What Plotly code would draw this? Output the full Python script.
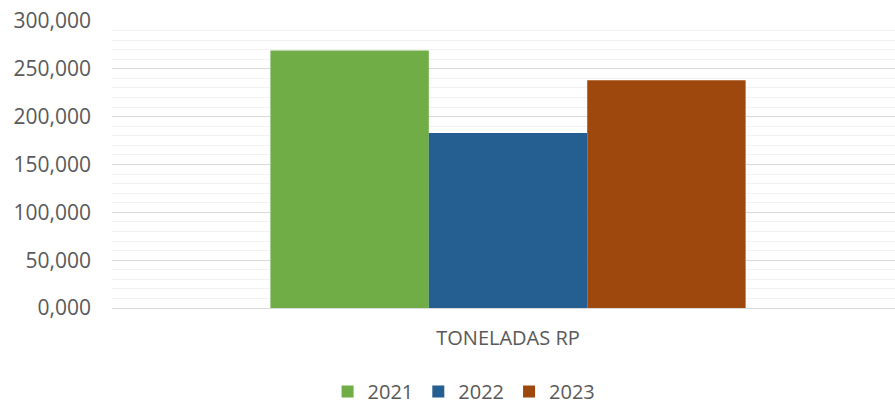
import plotly.graph_objects as go

categories = ["TONELADAS RP"]
years = ["2021", "2022", "2023"]
values = [269.2, 182.8, 238.1]
colors = ["#70AD47", "#255E91", "#9E480E"]

fig = go.Figure()
for yr, v, c in zip(years, values, colors):
    fig.add_trace(go.Bar(name=yr, x=categories, y=[v], marker=dict(color=c, line=dict(width=0))))

font_family = "Open Sans, Noto Sans, sans-serif"
fig.update_layout(
    width=895, height=402,
    margin=dict(l=112, r=0, t=21, b=94, autoexpand=False),
    paper_bgcolor="white", plot_bgcolor="white",
    barmode="group", bargap=0.4, bargroupgap=0,
    separators=",.",
    font=dict(family=font_family, size=20, color="#595959"),
    showlegend=True,
    legend=dict(orientation="h", xref="container", yref="container",
                x=0.5185, y=0.026, xanchor="center", yanchor="middle",
                font=dict(size=20, color="#595959"), itemwidth=30, traceorder="normal"),
)
fig.update_xaxes(type="category", range=[-0.5, 0.4886], showgrid=False, showline=False,
                 ticks="", ticklabelstandoff=16, automargin=False,
                 tickfont=dict(size=20, color="#595959"))
fig.update_yaxes(range=[0, 300], tickmode="linear", tick0=0, dtick=50, tickformat=".3f",
                 showgrid=True, gridcolor="#d9d9d9",
                 gridwidth=1, zeroline=True, zerolinecolor="#d9d9d9", zerolinewidth=1,
                 showline=False, ticks="", ticklabelstandoff=20, automargin=False,
                 tickfont=dict(size=21, color="#595959"),
                 minor=dict(dtick=10, showgrid=True, gridcolor="#f2f2f2", gridwidth=1, ticks=""))
fig.write_html("out.html", config={"displayModeBar": False},
               post_script="document.body.style.margin='0';document.body.style.padding='0';")
